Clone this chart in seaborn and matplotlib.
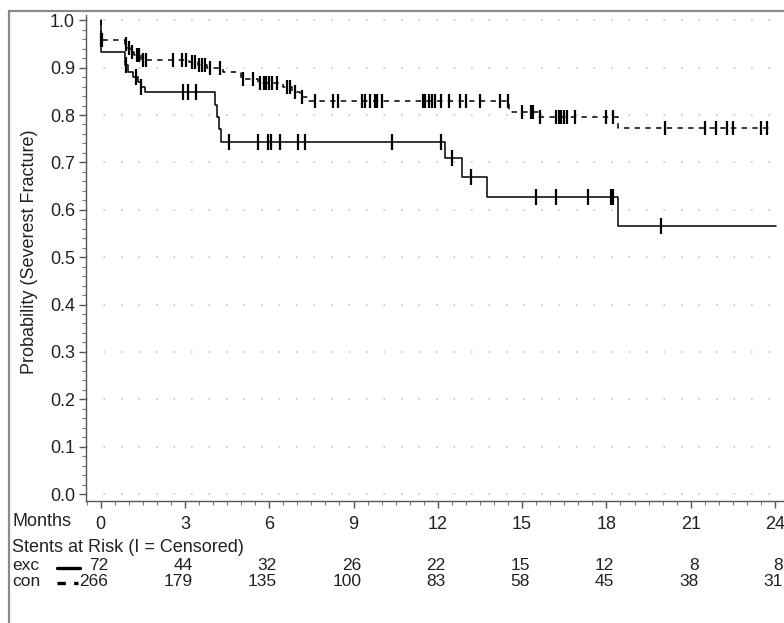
import numpy as np
import pandas as pd
import matplotlib
matplotlib.use('Agg')
import matplotlib.pyplot as plt
import matplotlib.transforms as mtransforms
from matplotlib.lines import Line2D
from matplotlib.patches import Rectangle
from matplotlib.ticker import MultipleLocator
import seaborn as sns

# Kaplan-Meier step points (months, survival)
exc_time = [0, 0, 0.87, 0.98, 1.16, 1.33, 1.42, 1.58, 4.07, 4.15, 4.22, 4.30,
            12.25, 12.85, 13.75, 18.42, 24.03]
exc_surv = [1.0, 0.932, 0.905, 0.891, 0.880, 0.870, 0.859, 0.849, 0.822, 0.796,
            0.770, 0.743, 0.709, 0.670, 0.627, 0.565, 0.565]
exc_cens = [0.92, 1.25, 1.45, 2.92, 3.12, 3.39, 4.57, 5.6, 5.96, 6.05, 6.38, 7.03,
            7.27, 10.37, 12.1, 12.5, 13.17, 15.5, 16.2, 17.35, 18.18, 18.24, 19.93]

con_time = [0, 0, 0.87, 0.95, 1.05, 1.2, 1.45, 3.15, 3.45, 3.8, 4.35, 5.0, 5.6,
            6.5, 6.8, 7.1, 7.4, 14.55, 15.55, 18.42, 23.9]
con_surv = [1.0, 0.959, 0.950, 0.942, 0.934, 0.926, 0.917, 0.911, 0.905, 0.899,
            0.890, 0.877, 0.867, 0.859, 0.848, 0.838, 0.829, 0.807, 0.795, 0.773,
            0.773]
con_cens = [0.03, 0.06, 0.9, 1.0, 1.1, 1.3, 1.38, 1.5, 1.6, 2.58, 2.9, 3.05, 3.25,
            3.35, 3.5, 3.6, 3.7, 3.9, 4.25, 5.07, 5.42, 5.67, 5.8, 5.9, 6.0, 6.1,
            6.27, 6.63, 6.75, 6.9, 7.16, 7.63, 8.27, 8.45, 9.3, 9.4, 9.6, 9.75,
            9.85, 10.0, 11.47, 11.55, 11.7, 11.8, 11.9, 12.1, 12.4, 12.8, 13.0,
            13.5, 14.2, 14.5, 15.0, 15.3, 15.4, 15.65, 16.2, 16.3, 16.4, 16.5,
            16.6, 16.9, 18.0, 18.25, 20.1, 21.5, 21.9, 22.3, 22.5, 23.5, 23.7]

risk_months = [0, 3, 6, 9, 12, 15, 18, 21, 24]
exc_risk = [72, 44, 32, 26, 22, 15, 12, 8, 8]
con_risk = [266, 179, 135, 100, 83, 58, 45, 38, 31]


def step_value(times, surv, t):
    # value of the step curve at time t (right-continuous)
    idx = np.searchsorted(np.array(times), t, side='right') - 1
    return surv[max(idx, 0)]


sns.set_style('ticks')
plt.rcParams['font.family'] = ['Liberation Sans', 'DejaVu Sans']
ink = '#222222'

fig = plt.figure(figsize=(7.84, 6.23), dpi=100)
ax = fig.add_axes([86 / 784, 122.3 / 623, 698 / 784, 485.2 / 623])

exc_df = pd.DataFrame({'Months': exc_time, 'Survival': exc_surv})
con_df = pd.DataFrame({'Months': con_time, 'Survival': con_surv})

sns.lineplot(data=exc_df, x='Months', y='Survival', estimator=None, sort=False,
             drawstyle='steps-post', color='black', linewidth=1.1, ax=ax)
sns.lineplot(data=con_df, x='Months', y='Survival', estimator=None, sort=False,
             drawstyle='steps-post', color='black', linewidth=1.1,
             dashes=False, ax=ax)
ax.lines[-1].set_dashes([3.5, 3.5])

exc_c = pd.DataFrame({'Months': exc_cens,
                      'Survival': [step_value(exc_time, exc_surv, t) for t in exc_cens]})
con_c = pd.DataFrame({'Months': con_cens,
                      'Survival': [step_value(con_time, con_surv, t) for t in con_cens]})
sns.scatterplot(data=exc_c, x='Months', y='Survival', marker='|', s=120,
                linewidth=1.6, color='black', ax=ax)
sns.scatterplot(data=con_c, x='Months', y='Survival', marker='|', s=110,
                linewidth=1.6, color='black', ax=ax)

ax.set_xlim(-0.52, 24.32)
ax.set_ylim(-0.014, 1.01)
ax.set_xticks(risk_months)
ax.set_yticks(np.arange(0, 1.01, 0.1))
ax.set_yticklabels([f'{v:.1f}' for v in np.arange(0, 1.01, 0.1)])
ax.xaxis.set_minor_locator(MultipleLocator(0.5))
ax.yaxis.set_minor_locator(MultipleLocator(0.02))
ax.tick_params(axis='both', which='major', length=5, width=1, color='#555555',
               labelsize=13, labelcolor=ink)
ax.tick_params(axis='both', which='minor', length=3, width=0.8, color='#777777')
ax.tick_params(axis='x', pad=6)
ax.tick_params(axis='y', pad=3)
ax.set_xlabel('')
ax.set_ylabel('')
for s in ['top', 'right']:
    ax.spines[s].set_visible(False)
for s in ['left', 'bottom']:
    ax.spines[s].set_color('#555555')
    ax.spines[s].set_linewidth(1)

ax.yaxis.grid(True, color='#c8c8c8', linewidth=1.2, linestyle=(0, (1, 9.5)))
ax.set_axisbelow(True)

# outer frame
fig.add_artist(Rectangle((9 / 784, -0.02), 1.0, (623 - 11) / 623 + 0.02,
                         transform=fig.transFigure, fill=False,
                         edgecolor='#8a8a8a', linewidth=1.6))

def fy(py):
    return 1 - py / 623

fig.text(30 / 784, fy(252), 'Probability (Severest Fracture)', rotation=90,
         ha='center', va='center', fontsize=13, color=ink)
fig.text(12 / 784, fy(521), 'Months', ha='left', va='center', fontsize=13, color=ink)
fig.text(12 / 784, fy(547), 'Stents at Risk (I = Censored)', ha='left',
         va='center', fontsize=13, color=ink)
fig.text(12 / 784, fy(565), 'exc', ha='left', va='center', fontsize=12.5, color=ink)
fig.text(12 / 784, fy(581), 'con', ha='left', va='center', fontsize=12.5, color=ink)

fig.add_artist(Line2D([57 / 784, 80 / 784], [fy(568), fy(568)],
                      transform=fig.transFigure, color='black', linewidth=2.4))
fig.add_artist(Line2D([57 / 784, 78 / 784], [fy(583), fy(583)],
                      transform=fig.transFigure, color='black', linewidth=2.4,
                      dashes=[2.5, 2.5]))

trans = mtransforms.blended_transform_factory(ax.transData, fig.transFigure)
for m, e, c in zip(risk_months, exc_risk, con_risk):
    ax.text(m + 0.28, fy(565), str(e), transform=trans, ha='right', va='center',
            fontsize=12.5, color=ink, clip_on=False)
    ax.text(m + 0.28, fy(581), str(c), transform=trans, ha='right', va='center',
            fontsize=12.5, color=ink, clip_on=False)

fig.savefig('out.png', dpi=100)
